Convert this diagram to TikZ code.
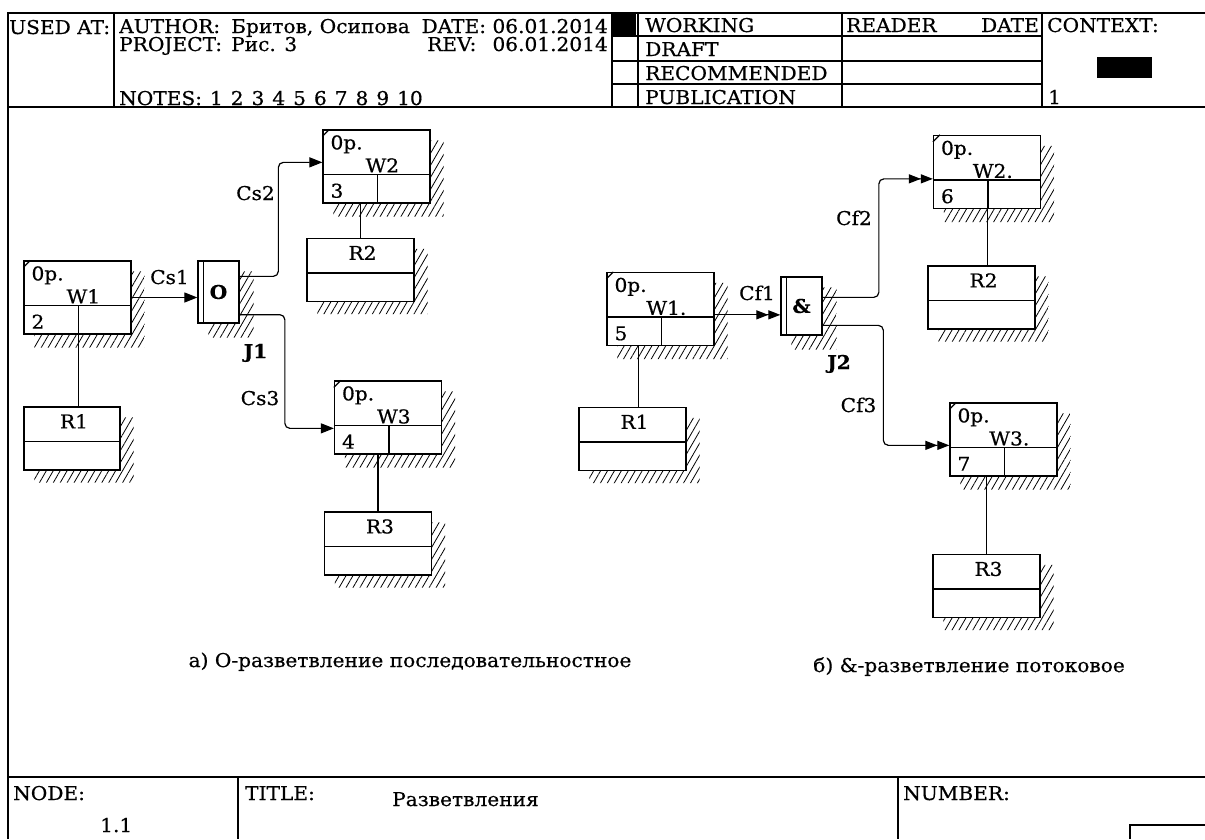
\documentclass[tikz,border=0pt]{standalone}
\usepackage{fontspec}
\setmainfont{DejaVu Serif}[FakeStretch=1.06, FakeBold=0.6]
\usetikzlibrary{arrows.meta,positioning,calc,patterns.meta}
\newcommand{\formfont}{\fontsize{19}{22}\selectfont}
\tikzset{
  funcbox/.style={rectangle, draw, line width=1.3pt,
    minimum width=107pt, minimum height=73pt, inner sep=0pt},
  resbox/.style={rectangle, draw, line width=1.3pt,
    minimum width=#1, minimum height=63pt, inner sep=0pt},
  resbox/.default=107pt,
  junctbox/.style={rectangle, draw, line width=1.3pt,
    minimum width=41pt, minimum height=#1, inner sep=0pt, font=\formfont\bfseries},
  junctbox/.default=60pt,
  hatch/.style={pattern={Lines[angle=60,distance=6pt,line width=0.8pt]}},
  part/.style={line width=1.3pt},
  link/.style={line width=1.2pt},
  seqarrow/.style={-{Triangle[length=13pt,width=10pt]},
    line width=1.2pt, rounded corners=5pt},
  flowarrow/.style={-{Triangle[length=12pt,width=9pt] Triangle[length=12pt,width=9pt]},
    line width=1.2pt, rounded corners=5pt},
  txt/.style={inner sep=0pt, anchor=base west},
  lbl/.style={inner sep=0pt, anchor=base},
  frame/.style={line width=1.4pt},
}
% hatched shadow: node, right offset, down offset
\newcommand{\shadehatch}[3]{%
  \fill[hatch] ($(#1.north east)+(0,11)$) -- ++(#2,0)
    -- ($(#1.south east)+(#2,#3)$) -- ($(#1.south west)+(11,#3)$)
    -- ($(#1.south west)+(11,0)$) -- (#1.south east) -- cycle;}
% unit of work: name, x, y, title, number
\newcommand{\funcblock}[5]{%
  \node[funcbox] (#1) at (#2,#3) {};
  \shadehatch{#1}{13}{13}
  \draw[part] ($(#1.north west)+(0,45)$) -- ($(#1.north east)+(0,45)$);
  \draw[part] ($(#1.north west)+(55,45)$) -- ($(#1.south west)+(55,0)$);
  \draw[part] ($(#1.north west)+(0,7)$) -- ($(#1.north west)+(7,0)$);
  \node[txt] (#1-op) at ($(#1.north west)+(8,20)$) {0p.};
  \node[lbl] (#1-lbl) at ($(#1.north west)+(60,43)$) {#4};
  \node[txt] (#1-num) at ($(#1.south west)+(8,-6)$) {#5};}
% resource: name, x, y, title, width
\newcommand{\resblock}[5]{%
  \node[resbox=#5] (#1) at (#2,#3) {};
  \shadehatch{#1}{13}{12}
  \draw[part] ($(#1.north west)+(0,35)$) -- ($(#1.north east)+(0,35)$);
  \node[lbl] (#1-lbl) at ($(#1.north)+(2,22)$) {#4};}
% junction: name, x, y, symbol, height
\newcommand{\junctblock}[5]{%
  \node[junctbox=#5] (#1) at (#2,#3) {#4};
  \shadehatch{#1}{14}{14}
  \draw[part] ($(#1.north west)+(6,0)$) -- ($(#1.south west)+(6,0)$);}

\begin{document}
\begin{tikzpicture}[x=1pt, y=-1pt, font=\formfont]
  \useasboundingbox (0,0) rectangle (1205,839);
  % form
  \draw[frame] (8,839) -- (8,13) -- (1205,13);
  \draw[frame] (8,107) -- (1205,107);
  \draw[frame] (114,13) -- (114,107);
  \draw[frame] (612,13) -- (612,107);
  \draw[frame] (638,13) -- (638,107);
  \draw[frame] (842,13) -- (842,107);
  \draw[frame] (1042,13) -- (1042,107);
  \foreach \ry in {36,61,84} \draw[frame] (612,\ry) -- (1042,\ry);
  \fill (612,13) rectangle (636,36);
  \fill (1097,57) rectangle (1152,78);
  \draw[frame] (8,777) -- (1205,777);
  \draw[frame] (238,777) -- (238,839);
  \draw[frame] (898,777) -- (898,839);
  \draw[frame] (1130,839) -- (1130,825) -- (1205,825);

  \node[txt] (usedat) at (9,34) {USED AT:};
  \node[txt] (author) at (119,33) {AUTHOR:};
  \node[txt] (names) at (231,33) {Бритов, Осипова};
  \node[txt, anchor=base east] (date) at (608,33) {DATE: 06.01.2014};
  \node[txt] (project) at (119,51) {PROJECT:};
  \node[txt] (fig) at (231,51) {Рис. 3};
  \node[txt] (rev) at (427,51) {REV:};
  \node[txt, anchor=base east] (revdate) at (608,51) {06.01.2014};
  \node[txt] (notes) at (119,105) {\spaceskip=0.42em\relax NOTES: 1 2 3 4 5 6 7 8 9 10};
  \node[txt] (working) at (645,32) {WORKING};
  \node[txt] (draft) at (645,56) {DRAFT};
  \node[txt] (recom) at (645,80) {RECOMMENDED};
  \node[txt] (public) at (645,104) {PUBLICATION};
  \node[txt] (reader) at (846,32) {READER};
  \node[txt, anchor=base east] (rdate) at (1039,32) {DATE};
  \node[txt] (context) at (1047,32) {CONTEXT:};
  \node[txt] (ctxnum) at (1048,104) {1};
  \node[txt] (nodelbl) at (13,800) {NODE:};
  \node[txt] (nodenum) at (100,832) {1.1};
  \node[txt] (titlelbl) at (245,800) {TITLE:};
  \node[txt] (title) at (392,806) {Разветвления};
  \node[txt] (numberlbl) at (903,800) {NUMBER:};

  % a) sequential O-split
  \funcblock{sw1}{77.5}{297.5}{W1}{2}
  \resblock{sr1}{72}{438.5}{R1}{96pt}
  \junctblock{j1}{218.5}{292}{O}{62pt}
  \funcblock{sw2}{376.5}{166.5}{W2}{3}
  \resblock{sr2}{360.5}{270}{R2}{107pt}
  \funcblock{sw3}{388}{417.5}{W3}{4}
  \resblock{sr3}{378}{543.5}{R3}{107pt}
  \draw[seqarrow] (sw1.east) -- (sw1.east -| j1.west);
  \draw[seqarrow] ($(j1.north east)+(0,16)$) -| ($(sw2.north west)+(-44,33)$) -- ($(sw2.north west)+(0,33)$);
  \draw[seqarrow] ($(j1.south east)+(0,-9)$) -| ($(sw3.north west)+(-49,48)$) -- ($(sw3.north west)+(0,48)$);
  \draw[link] ($(sw1.south west)+(55,0)$) coordinate (sl1) -- (sl1 |- sr1.north);
  \draw[link] (sr2.north) -- (sr2.north |- sw2.south);
  \draw[link] (sr3.north) -- (sr3.north |- sw3.south);
  \node[lbl] (cs1) at (169.5,284) {Cs1};
  \node[lbl] (cs2) at (255.5,200) {Cs2};
  \node[lbl] (cs3) at (260,405) {Cs3};
  \node[lbl, font=\formfont\bfseries] (j1lbl) at (255.5,358) {J1};

  % b) parallel &-split
  \funcblock{fw1}{660.5}{309}{W1.}{5}
  \resblock{fr1}{632.5}{439}{R1}{107pt}
  \junctblock{j2}{801.5}{306}{\&}{58pt}
  \funcblock{fw2}{987}{172}{W2.}{6}
  \resblock{fr2}{981.5}{297.5}{R2}{107pt}
  \funcblock{fw3}{1003.5}{439.5}{W3.}{7}
  \resblock{fr3}{986.5}{586}{R3}{107pt}
  \draw[flowarrow] ($(fw1.north east)+(0,43)$) coordinate (cf1s) -- (cf1s -| j2.west);
  \draw[flowarrow] ($(j2.north east)+(0,21)$) -| ($(fw2.north west)+(-54,44)$) -- ($(fw2.north west)+(0,44)$);
  \draw[flowarrow] ($(j2.north east)+(0,49)$) -| ($(fw3.north west)+(-66,43)$) -- ($(fw3.north west)+(0,43)$);
  \draw[link] ($(fw1.south west)+(32,0)$) coordinate (fl1) -- (fl1 |- fr1.north);
  \draw[link] ($(fw2.south west)+(55,0)$) coordinate (fl2) -- (fl2 |- fr2.north);
  \draw[link] (fr3.north) -- (fr3.north |- fw3.south);
  \node[lbl] (cf1) at (757,300) {Cf1};
  \node[lbl] (cf2) at (854,225) {Cf2};
  \node[lbl] (cf3) at (858.5,412) {Cf3};
  \node[lbl, font=\formfont\bfseries] (j2lbl) at (839,369) {J2};

  \node[lbl] (capa) at (410,667) {а) О-разветвление последовательностное};
  \node[txt, anchor=base east] (capb) at (1125,672) {б) \&-разветвление потоковое};
\end{tikzpicture}
\end{document}
